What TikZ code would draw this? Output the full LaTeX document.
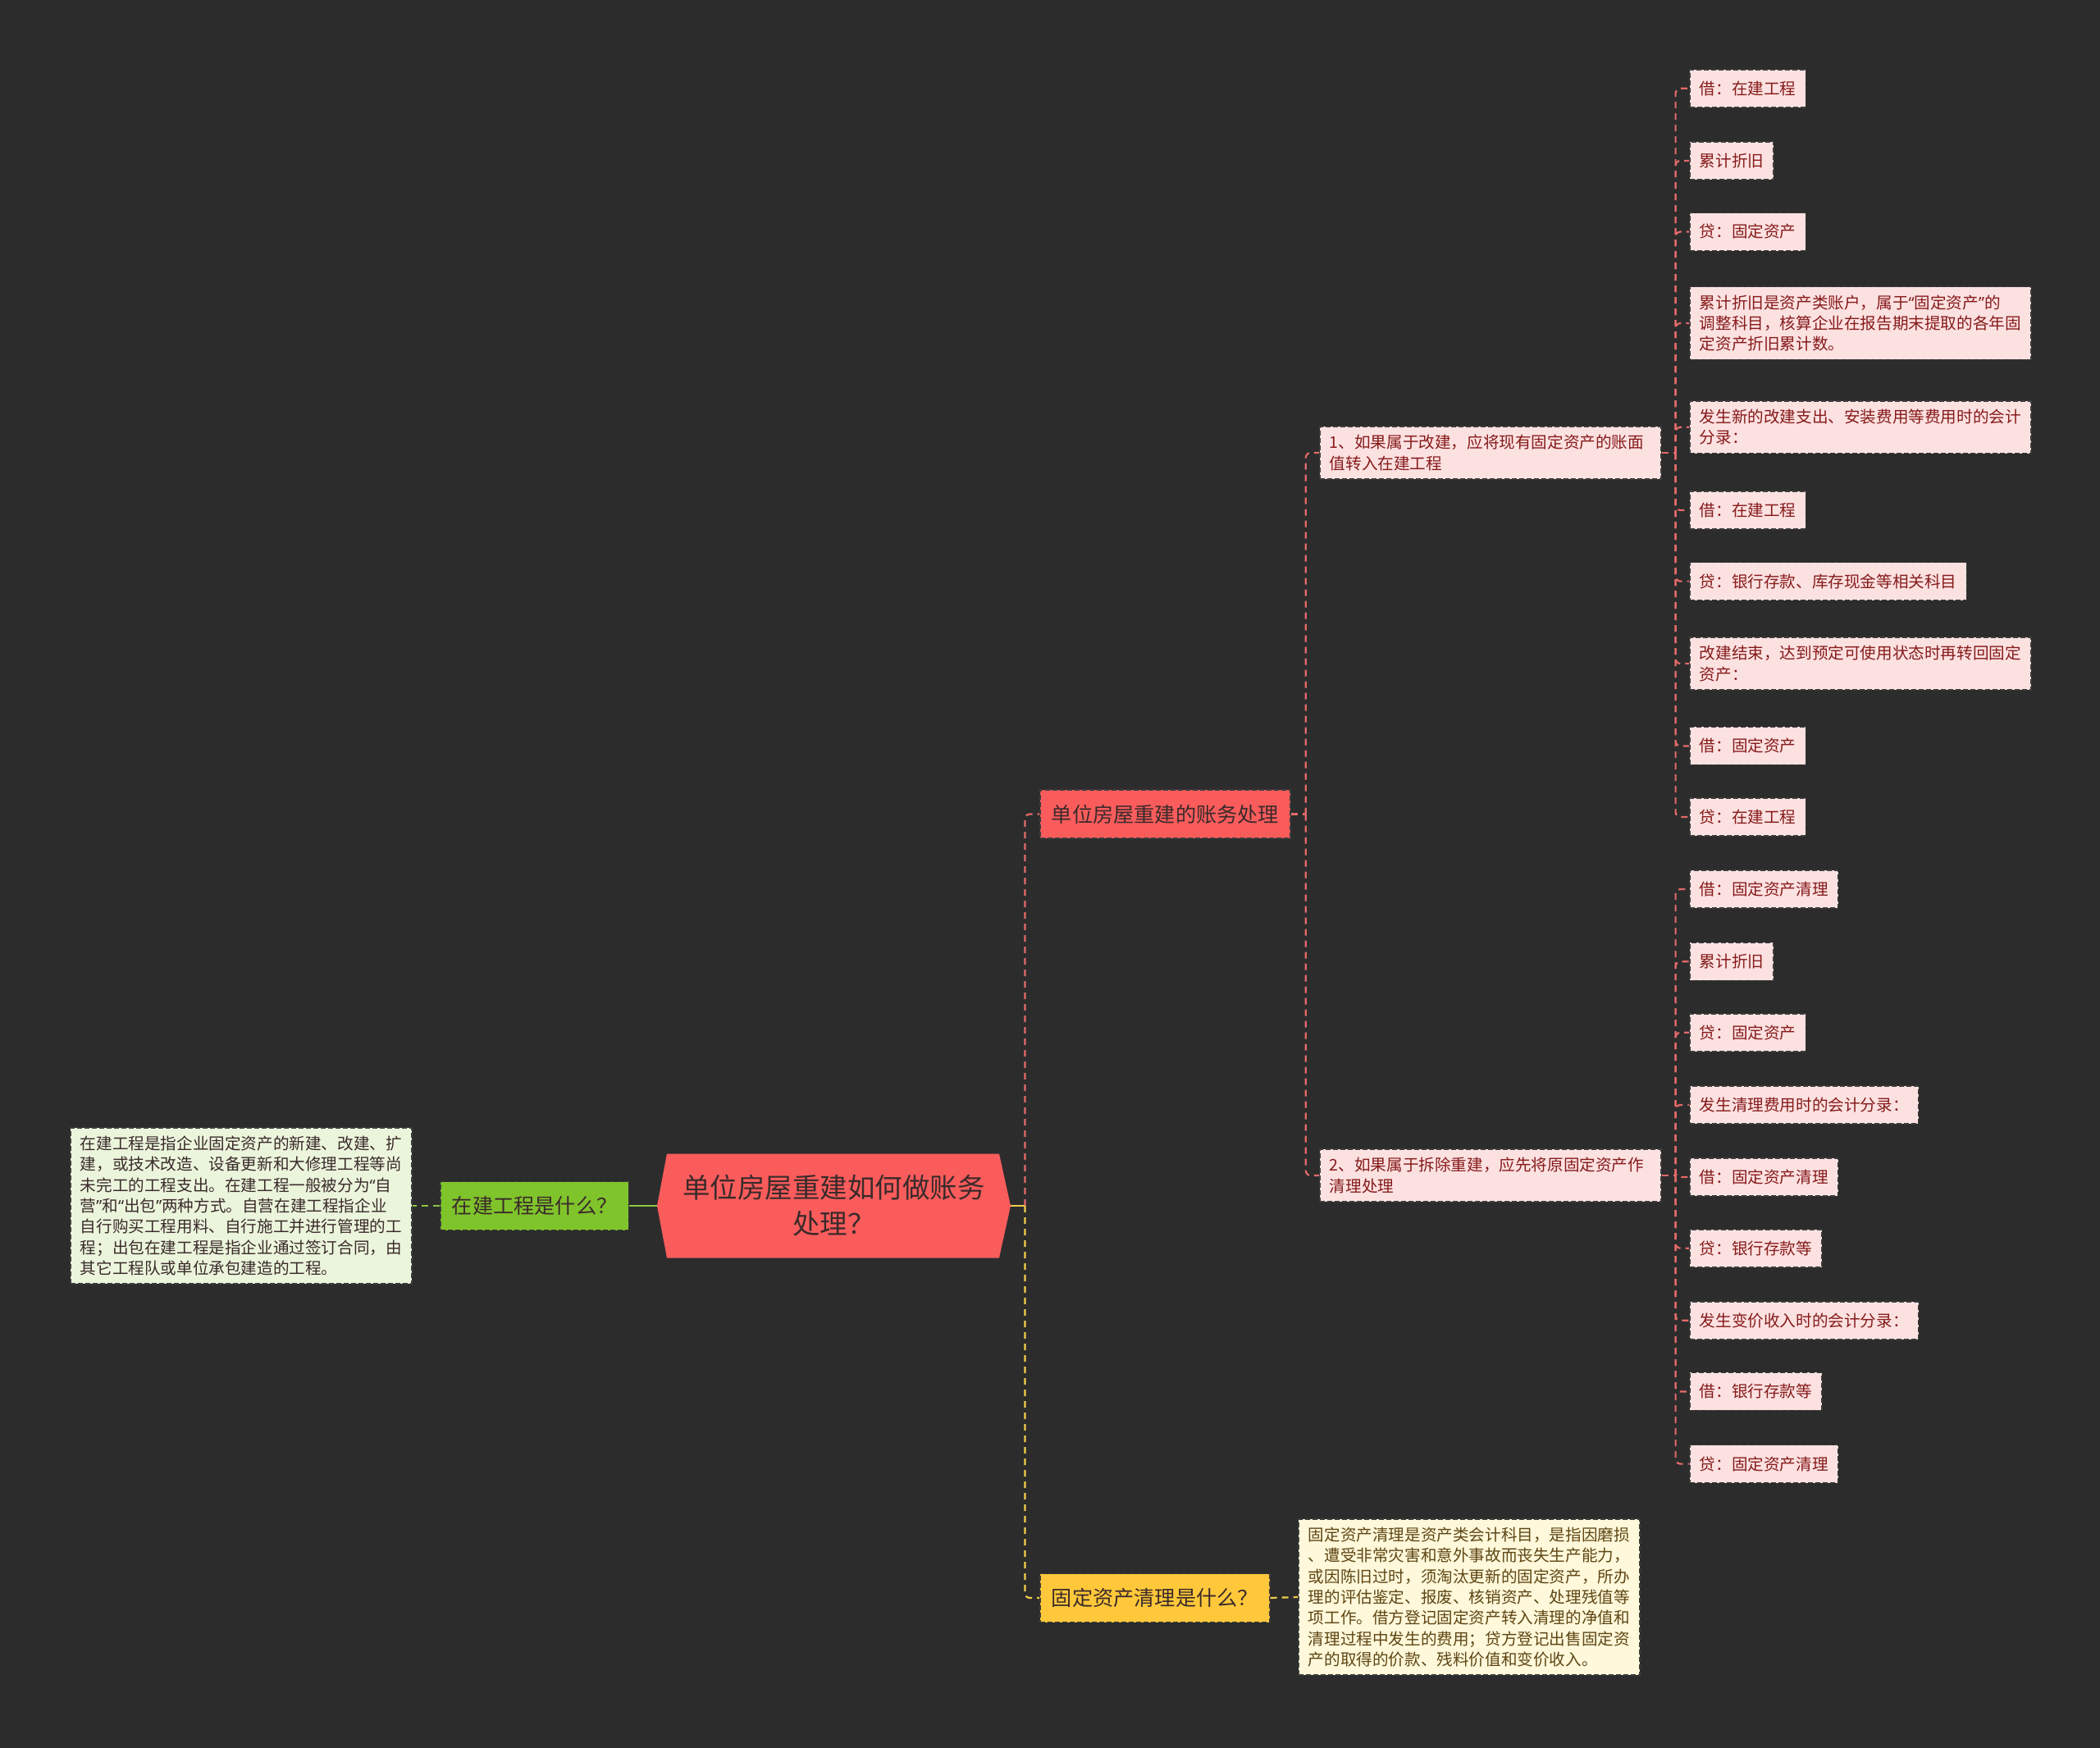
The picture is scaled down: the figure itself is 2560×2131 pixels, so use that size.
\documentclass[tikz,border=0pt]{standalone}
\usepackage{fontspec}
\setmainfont{Noto Sans CJK SC}
\newfontfamily\qfont{Noto Sans}
\newcommand\myoq{{\qfont “}}
\newcommand\mycq{{\qfont ”}}
\usetikzlibrary{calc}
\definecolor{bgc}{HTML}{2C2C2C}
\definecolor{redfill}{HTML}{FA5C5C}
\definecolor{leaffill}{HTML}{FCE1E1}
\definecolor{leaftext}{HTML}{861B1B}
\definecolor{greenfill}{HTML}{80C42C}
\definecolor{lgreenfill}{HTML}{EBF5DC}
\definecolor{yelfill}{HTML}{FFC83A}
\definecolor{lyelfill}{HTML}{FFF8DA}
\definecolor{yeltext}{HTML}{5E4614}
\definecolor{darktext}{HTML}{3A2A2A}
\definecolor{bordc}{HTML}{3C3C3C}
\definecolor{redline}{HTML}{E46A6A}
\definecolor{yelline}{HTML}{F2CE4A}
\definecolor{grnline}{HTML}{8CC63F}
\begin{document}
\begin{tikzpicture}[x=0.5pt,y=-0.5pt,
  dbox/.style={draw=bordc, dash pattern=on 3pt off 1.5pt, line width=0.8pt},
  smallfont/.style={font=\fontsize{9.8pt}{12.65pt}\selectfont},
  leaf/.style={dbox, smallfont, fill=leaffill, text=leaftext, anchor=west, minimum height=23pt, inner xsep=6pt, inner ysep=5pt, align=left},
  wideleaf/.style={leaf, text width=196pt},
  mainnode/.style={dbox, anchor=west, minimum height=29.5pt, inner xsep=7pt, inner ysep=0pt, font=\fontsize{12.6pt}{15pt}\selectfont},
  textbox/.style={dbox, smallfont, anchor=west, inner xsep=6pt, inner ysep=5pt, text width=196pt, align=left},
  rdash/.style={draw=redline, line width=1.1pt, dash pattern=on 4pt off 3pt, rounded corners=3pt},
  ydash/.style={draw=yelline, line width=1.1pt, dash pattern=on 4pt off 3pt, rounded corners=3pt},
  gdash/.style={draw=grnline, line width=1.1pt, dash pattern=on 4pt off 3pt},
  solidline/.style={line width=1.1pt}
]
\fill[bgc] (0,0) rectangle (2560,2131);

% central node
\node[minimum width=215.5pt, minimum height=63.5pt, inner sep=0pt, fill=bgc, align=center,
  text=darktext, font=\fontsize{16.75pt}{22pt}\selectfont,
  path picture={\fill[redfill] (path picture bounding box.west)
     -- ([xshift=6pt]path picture bounding box.north west)
     -- ([xshift=-7pt]path picture bounding box.north east)
     -- (path picture bounding box.east)
     -- ([xshift=-7pt]path picture bounding box.south east)
     -- ([xshift=6pt]path picture bounding box.south west) -- cycle;}]
  (c) at (1016.5,1470) {单位房屋重建如何做账务\\处理？};

% left branch
\node[mainnode, fill=greenfill, text=darktext] (g) at (536,1470) {在建工程是什么？};
\node[textbox, fill=lgreenfill, text=darktext] (lb) at (85,1470) {在建工程是指企业固定资产的新建、改建、扩\\建，或技术改造、设备更新和大修理工程等尚\\未完工的工程支出。在建工程一般被分为\myoq 自\\营\mycq 和\myoq 出包\mycq 两种方式。自营在建工程指企业\\自行购买工程用料、自行施工并进行管理的工\\程；出包在建工程是指企业通过签订合同，由\\其它工程队或单位承包建造的工程。};

% right main branches
\node[mainnode, fill=redfill, text=darktext] (r) at (1267,992.5) {单位房屋重建的账务处理};
\node[mainnode, fill=yelfill, text=darktext] (y) at (1267,1948) {固定资产清理是什么？};
\node[textbox, fill=lyelfill, text=yeltext] (yb) at (1582,1947) {固定资产清理是资产类会计科目，是指因磨损\\、遭受非常灾害和意外事故而丧失生产能力，\\或因陈旧过时，须淘汰更新的固定资产，所办\\理的评估鉴定、报废、核销资产、处理残值等\\项工作。借方登记固定资产转入清理的净值和\\清理过程中发生的费用；贷方登记出售固定资\\产的取得的价款、残料价值和变价收入。};

\node[wideleaf] (n1) at (1608,552) {1、如果属于改建，应将现有固定资产的账面\\值转入在建工程};
\node[wideleaf] (n2) at (1608,1433) {2、如果属于拆除重建，应先将原固定资产作\\清理处理};

% leaves group 1
\node[leaf] (a1) at (2059,107.8) {借：在建工程};
\node[leaf] (a2) at (2059,195.9) {累计折旧};
\node[leaf] (a3) at (2059,282.5) {贷：固定资产};
\node[wideleaf] (a4) at (2059,394) {累计折旧是资产类账户，属于\myoq 固定资产\mycq 的\\调整科目，核算企业在报告期末提取的各年固\\定资产折旧累计数。};
\node[wideleaf] (a5) at (2059,520.8) {发生新的改建支出、安装费用等费用时的会计\\分录：};
\node[leaf] (a6) at (2059,622) {借：在建工程};
\node[leaf] (a7) at (2059,708.6) {贷：银行存款、库存现金等相关科目};
\node[wideleaf] (a8) at (2059,809) {改建结束，达到预定可使用状态时再转回固定\\资产：};
\node[leaf] (a9) at (2059,909.4) {借：固定资产};
\node[leaf] (a10) at (2059,996) {贷：在建工程};

% leaves group 2
\node[leaf] (b1) at (2059,1084) {借：固定资产清理};
\node[leaf] (b2) at (2059,1172.3) {累计折旧};
\node[leaf] (b3) at (2059,1258.8) {贷：固定资产};
\node[leaf] (b4) at (2059,1347) {发生清理费用时的会计分录：};
\node[leaf] (b5) at (2059,1435) {借：固定资产清理};
\node[leaf] (b6) at (2059,1521.7) {贷：银行存款等};
\node[leaf] (b7) at (2059,1609.8) {发生变价收入时的会计分录：};
\node[leaf] (b8) at (2059,1696.4) {借：银行存款等};
\node[leaf] (b9) at (2059,1784.6) {贷：固定资产清理};

% connectors
\coordinate (t) at ($(c.east)+(17,0)$);
\draw[ydash] (t) |- (y.west);
\draw[rdash] (t) |- (r.west);
\draw[yelline, solidline] (c.east) -- (t);
\draw[grnline, solidline] (c.west) -- (g.east);
\draw[gdash] (g.west) -- (lb.east);
\draw[ydash] (y.east) -- (yb.west);

\coordinate (s0) at ($(r.east)+(18,0)$);
\draw[rdash] (r.east) -- (s0);
\draw[rdash] (s0) |- (n1.west);
\draw[rdash] (s0) |- (n2.west);

\coordinate (s1) at ($(n1.east)+(17,0)$);
\draw[rdash] (n1.east) -- (s1);
\foreach \k in {a1,a2,a3,a4,a5,a6,a7,a8,a9,a10} {\draw[rdash] (s1) |- (\k.west);}
\coordinate (s2) at ($(n2.east)+(17,0)$);
\draw[rdash] (n2.east) -- (s2);
\foreach \k in {b1,b2,b3,b4,b5,b6,b7,b8,b9} {\draw[rdash] (s2) |- (\k.west);}
\end{tikzpicture}
\end{document}
